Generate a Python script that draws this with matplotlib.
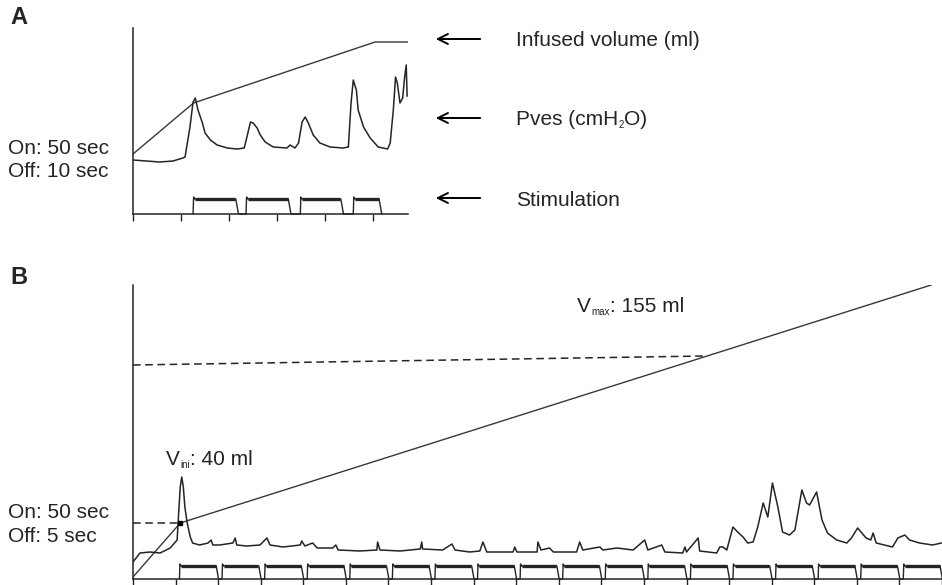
import matplotlib.pyplot as plt
import numpy as np

plt.rcParams['font.family'] = ['Liberation Sans', 'DejaVu Sans']

# ---- panel A (time in s, traces in arbitrary units) ----
a_vol_t = [0, 68, 272, 310]
a_vol_y = [60, 111, 172, 172]

a_pves_t = [0, 30, 45, 56, 58.5, 64, 67.5, 70, 73, 78, 81, 87, 94.5, 106, 117, 125, 128, 132,
            135, 139.5, 143, 148.5, 157.5, 173, 176.5, 182, 186, 190, 193.5, 197, 202.5, 210,
            221.5, 236, 242, 245, 247.5, 251, 253, 259, 266.5, 275.5, 286, 289, 292.5, 295,
            297, 300, 303, 305, 307, 308]
a_pves_y = [54, 52, 53, 56, 57, 87, 112, 116, 104, 91, 81, 74, 69, 66, 65, 66, 77, 92,
            91, 86, 79, 72, 67, 66, 69, 66, 71, 92, 97, 91, 79, 71,
            67, 66, 67, 111, 134, 124, 104, 87, 76, 67, 65, 71, 104, 137,
            131, 111, 116, 135, 149, 118]

a_stim_on = [67.5, 127, 188, 247.5]
a_stim_off = [118, 177, 236, 279]
a_stim_level = 15
a_ticks = [0, 54, 108, 162, 216, 270]

# ---- panel B ----
b_vol_t = [0, 61, 1031]
b_vol_y = [2, 56, 294]

b_pves_t = [0, 9, 22, 35, 48, 57, 59, 61, 63, 65, 67, 70, 74, 77, 86, 97, 101, 103, 112, 129,
            132, 134, 147, 164, 173, 177, 194, 216, 218, 222, 232, 238, 258, 262, 265, 293,
            315, 316, 319, 345, 371, 373, 374, 400, 412, 416, 435, 448, 452, 457, 491, 493,
            496, 522, 523, 527, 538, 543, 573, 577, 581, 603, 607, 625, 646, 661, 665, 683,
            687, 710, 713, 715, 730, 732, 754, 758, 762, 767, 775, 781, 788, 794, 801, 807,
            814, 820, 826, 833, 839, 848, 855, 864, 870, 874, 883, 890, 897, 909, 922, 928,
            936, 947, 953, 956, 960, 981, 988, 997, 1003, 1016, 1033, 1044]
b_pves_y = [17, 26, 27, 26, 31, 39, 66, 92, 102, 92, 72, 56, 42, 36, 34, 36, 39, 34, 34, 36,
            41, 34, 33, 34, 41, 34, 32, 34, 38, 33, 36, 31, 31, 34, 29, 28,
            29, 37, 29, 28, 30, 37, 30, 29, 35, 29, 27, 28, 37, 27, 27, 32,
            27, 27, 37, 29, 31, 27, 27, 37, 29, 32, 29, 31, 29, 39, 29, 34,
            27, 26, 32, 27, 41, 28, 26, 32, 32, 29, 52, 47, 42, 36, 37, 52,
            76, 62, 96, 72, 47, 44, 49, 89, 76, 74, 87, 59, 46, 39, 36, 41,
            51, 41, 39, 46, 36, 32, 41, 44, 39, 36, 34, 36]

b_stim_on = [60, 115, 170, 225, 280, 335, 390, 445, 500, 555, 610, 665, 720, 775, 830,
             885, 940, 995]
b_stim_off = [110, 165, 220, 275, 330, 385, 440, 495, 550, 605, 660, 715, 770, 825, 880,
              935, 990, 1045]
b_stim_level = 13
b_ticks = np.arange(0, 1046, 55)

# reference volumes marked on B
v_ini_t, v_ini_y = 61, 56
v_max_dash_t = [0, 738]
v_max_dash_y = [214, 223]

ink = '#242424'


def stim_trace(on, off, level):
    xs, ys = [], []
    for t0, t1 in zip(on, off):
        xs += [t0, t0 + 0.6, t0 + 2, t1 - 2.5, t1 + 0.5]
        ys += [0, level + 2, level, level, 0]
    return xs, ys


def style_axes(ax, ticks):
    for s in ['top', 'right']:
        ax.spines[s].set_visible(False)
    for s in ['left', 'bottom']:
        ax.spines[s].set_color(ink)
        ax.spines[s].set_linewidth(1.1)
    ax.set_xticks(ticks)
    ax.set_xticklabels([])
    ax.set_yticks([])
    ax.tick_params(axis='x', direction='out', length=5, width=1, color=ink)


def text_with_sub(xy, coords, parts, size=15, subsize=7):
    # parts: list of (string, is_subscript); placed one after another on a shared baseline
    dx = 0.0
    for s, is_sub in parts:
        t = plt.annotate(s, xy=xy, xycoords=coords, xytext=(dx, -2 if is_sub else 0),
                         textcoords='offset points', fontsize=subsize if is_sub else size,
                         va='baseline', ha='left', color=ink, annotation_clip=False)
        fig.canvas.draw()
        dx += t.get_window_extent().width * 72 / fig.dpi


fig = plt.figure(figsize=(9.42, 5.85), dpi=100)

# panel A
axA = fig.add_axes([133/942, 371/585, 275/942, 186/585])
axA.plot(a_vol_t, a_vol_y, color='#383838', lw=1.0)
axA.plot(a_pves_t, a_pves_y, color=ink, lw=1.1)
sx, sy = stim_trace(a_stim_on, a_stim_off, a_stim_level)
axA.plot(sx, sy, color=ink, lw=1.0, clip_on=False)
axA.hlines([a_stim_level] * len(a_stim_on), np.array(a_stim_on) + 2, np.array(a_stim_off) - 3,
           color=ink, lw=2.4)
axA.set_xlim(0, 309)
axA.set_ylim(0, 186)
style_axes(axA, a_ticks)

# panel B
axB = fig.add_axes([133/942, 6/585, 809/942, 294/585])
axB.plot(b_vol_t, b_vol_y, color='#383838', lw=1.0)
axB.plot(b_pves_t, b_pves_y, color=ink, lw=1.1)
sx, sy = stim_trace(b_stim_on, b_stim_off, b_stim_level)
axB.plot(sx, sy, color=ink, lw=1.0, clip_on=False)
axB.hlines([b_stim_level] * len(b_stim_on), np.array(b_stim_on) + 2, np.array(b_stim_off) - 3,
           color=ink, lw=2.4)
axB.plot([0, v_ini_t], [v_ini_y, v_ini_y], color=ink, lw=1.1, ls=(0, (5, 3)))
axB.plot(v_max_dash_t, v_max_dash_y, color=ink, lw=1.1, ls=(0, (5, 3)))
axB.plot([v_ini_t], [v_ini_y], marker='s', ms=3.5, color='black')
axB.set_xlim(0, 1045)
axB.set_ylim(0, 294)
style_axes(axB, b_ticks)

plt.sca(axB)
text_with_sub((43, 114), axB.transData, [('V', False), ('ini', True), (': 40 ml', False)])
text_with_sub((574, 267), axB.transData, [('V', False), ('max', True), (': 155 ml', False)])

# labels and arrows
fig.text(10/942, 1 - 18/585, 'A', fontsize=17, fontweight='bold', va='center', color=ink)
fig.text(10/942, 1 - 278/585, 'B', fontsize=17, fontweight='bold', va='center', color=ink)
fig.text(8/942, 1 - 148/585, 'On: 50 sec', fontsize=15, va='center', color=ink)
fig.text(8/942, 1 - 171/585, 'Off: 10 sec', fontsize=15, va='center', color=ink)
fig.text(8/942, 1 - 513/585, 'On: 50 sec', fontsize=15, va='center', color=ink)
fig.text(8/942, 1 - 537/585, 'Off: 5 sec', fontsize=15, va='center', color=ink)

label_parts = [[('Infused volume (ml)', False)],
               [('Pves (cmH', False), ('2', True), ('O)', False)],
               [('Stimulation', False)]]
label_y = [39, 118, 198]
for parts, py in zip(label_parts, label_y):
    yy = 1 - py/585
    text_with_sub((516/942, yy - 7.5/585), 'figure fraction', parts)
    plt.annotate('', xy=(433/942, yy), xytext=(483/942, yy),
                 xycoords='figure fraction', textcoords='figure fraction',
                 arrowprops=dict(arrowstyle='->', color='black', lw=1.4, mutation_scale=18))

fig.savefig('out.png', dpi=100)
